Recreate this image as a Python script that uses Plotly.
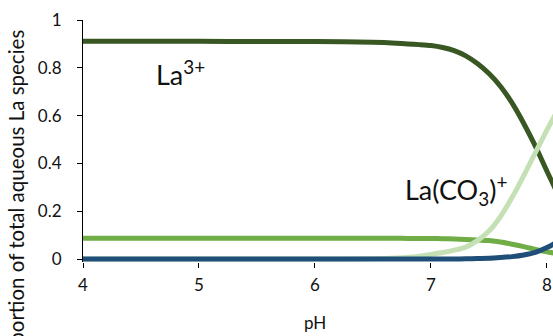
import plotly.graph_objects as go

# pH grid shared by all species curves
ph = [4.0, 4.5, 5.0, 5.5, 6.0, 6.5, 6.7, 6.8, 6.9, 7.0, 7.1, 7.2, 7.3, 7.4,
      7.5, 7.6, 7.7, 7.8, 7.9, 8.0, 8.1]

# Proportion of total aqueous La for each species
la3 = [0.911, 0.911, 0.911, 0.910, 0.910, 0.907, 0.903, 0.900, 0.897, 0.893,
       0.885, 0.872, 0.850, 0.818, 0.776, 0.722, 0.652, 0.567, 0.472, 0.367, 0.265]
la_minor = [0.087, 0.087, 0.087, 0.087, 0.087, 0.087, 0.087, 0.086, 0.086, 0.086,
            0.085, 0.084, 0.082, 0.080, 0.077, 0.071, 0.062, 0.052, 0.040, 0.030, 0.022]
la_co3 = [0.0, 0.0, 0.0, 0.0, 0.0, 0.001, 0.004, 0.007, 0.012, 0.019,
          0.027, 0.037, 0.050, 0.077, 0.117, 0.178, 0.258, 0.349, 0.445, 0.540, 0.630]
la_oh = [0.0, 0.0, 0.0, 0.0, 0.0, 0.0, 0.0, 0.0, 0.0, 0.0,
         0.0, 0.0, 0.001, 0.002, 0.003, 0.006, 0.010, 0.017, 0.028, 0.048, 0.075]

x_ticks = [4, 5, 6, 7, 8]
y_ticks = [0, 0.2, 0.4, 0.6, 0.8, 1]
y_labels = ["0", "0.2", "0.4", "0.6", "0.8", "1"]

FONT = "Lato"
TEXT = "#111111"

series = [
    (la3, "#385723"),
    (la_minor, "#70AD47"),
    (la_co3, "#C5E0B4"),
    (la_oh, "#1F4E79"),
]

fig = go.Figure()
for values, color in series:
    fig.add_trace(go.Scatter(
        x=ph, y=values, mode="lines",
        line=dict(color=color, width=5, shape="spline", smoothing=0.6),
        showlegend=False, hoverinfo="skip",
    ))

fig.update_layout(
    width=553, height=336,
    margin=dict(l=83, r=0, t=20, b=74, pad=0),
    paper_bgcolor="white", plot_bgcolor="white",
    font=dict(family=FONT, size=17, color=TEXT),
    xaxis=dict(
        range=[4, 8.052], tickvals=x_ticks, ticks="outside", ticklen=5,
        tickcolor="black", tickwidth=1, showline=False, showgrid=False,
        zeroline=False, ticklabelstandoff=3,
    ),
    yaxis=dict(
        range=[-0.0125, 1], tickvals=y_ticks, ticktext=y_labels,
        ticks="outside", ticklen=5, tickcolor="black", tickwidth=1,
        showline=True, linecolor="black", linewidth=1, showgrid=False,
        zeroline=False, ticklabelstandoff=12,
    ),
    annotations=[
        dict(text="pH", xref="paper", yref="paper", x=(315 - 83) / 470,
             y=-(322 - 262) / 242, xanchor="center", yanchor="middle",
             showarrow=False, font=dict(size=17)),
        dict(text="Proportion of total aqueous La species", xref="paper",
             yref="paper", x=(15 - 83) / 470, y=1 - 8 / 242, textangle=-90,
             xanchor="center", yanchor="top", showarrow=False,
             font=dict(size=20.5)),
        dict(text="La<sup>3+</sup>", xref="x", yref="y", x=4.61, y=0.78,
             xanchor="left", yanchor="middle", showarrow=False,
             font=dict(size=27)),
        dict(text="La(CO<sub>3</sub>)<sup>+</sup>", xref="x", yref="y",
             x=6.76, y=0.29, xanchor="left", yanchor="middle",
             showarrow=False, font=dict(size=27)),
    ],
)

fig.write_html("out.html")
